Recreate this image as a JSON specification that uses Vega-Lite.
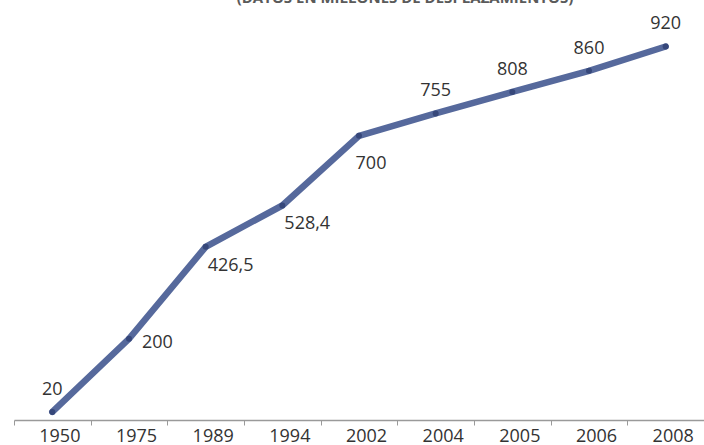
{
  "$schema": "https://vega.github.io/schema/vega-lite/v6.json",
  "autosize": {"type": "none"},
  "padding": {"left": 14, "top": 14, "right": 0, "bottom": 25},
  "width": 690,
  "height": 406,
  "background": "white",
  "title": {
    "text": "(DATOS EN MILLONES DE DESPLAZAMIENTOS)",
    "anchor": "middle",
    "dx": 46,
    "dy": 14,
    "baseline": "bottom",
    "offset": 7,
    "font": "Open Sans",
    "fontSize": 15,
    "fontWeight": "bold",
    "color": "#5a5a5a"
  },
  "data": {
    "values": [
      {"anio": "1950", "valor": 20, "etiqueta": "20"},
      {"anio": "1975", "valor": 200, "etiqueta": "200"},
      {"anio": "1989", "valor": 426.5, "etiqueta": "426,5"},
      {"anio": "1994", "valor": 528.4, "etiqueta": "528,4"},
      {"anio": "2002", "valor": 700, "etiqueta": "700"},
      {"anio": "2004", "valor": 755, "etiqueta": "755"},
      {"anio": "2005", "valor": 808, "etiqueta": "808"},
      {"anio": "2006", "valor": 860, "etiqueta": "860"},
      {"anio": "2008", "valor": 920, "etiqueta": "920"}
    ]
  },
  "encoding": {
    "x": {
      "field": "anio",
      "type": "ordinal",
      "bandPosition": 0.5,
      "scale": {"type": "band", "paddingInner": 0, "paddingOuter": 0},
      "axis": {
        "title": null,
        "labelAngle": 0,
        "tickBand": "extent",
        "tickSize": 5,
        "labelPadding": 2,
        "labelOffset": 7,
        "labelFont": "Open Sans",
        "labelFontSize": 18,
        "labelColor": "#333333",
        "domainColor": "#9a9a9a",
        "tickColor": "#9a9a9a",
        "domainWidth": 1.5
      }
    },
    "y": {
      "field": "valor",
      "type": "quantitative",
      "scale": {"domain": [0, 1000]},
      "axis": null
    }
  },
  "layer": [
    {"mark": {"type": "line", "color": "#56699c", "strokeWidth": 6.5, "strokeCap": "round"}},
    {"mark": {"type": "point", "filled": true, "color": "#36477a", "size": 36, "opacity": 1}},
    {
      "transform": [{"filter": {"field": "anio", "oneOf": ["1950", "2004", "2005", "2006", "2008"]}}],
      "mark": {"type": "text", "font": "Open Sans", "fontSize": 18, "color": "#333333", "baseline": "middle", "align": "center", "dy": -22},
      "encoding": {"text": {"field": "etiqueta"}}
    },
    {
      "transform": [{"filter": {"field": "anio", "oneOf": ["1975"]}}],
      "mark": {"type": "text", "font": "Open Sans", "fontSize": 18, "color": "#333333", "baseline": "middle", "align": "left", "dx": 13, "dy": 4},
      "encoding": {"text": {"field": "etiqueta"}}
    },
    {
      "transform": [{"filter": {"field": "anio", "oneOf": ["1989", "1994"]}}],
      "mark": {"type": "text", "font": "Open Sans", "fontSize": 18, "color": "#333333", "baseline": "middle", "align": "left", "dx": 2, "dy": 19},
      "encoding": {"text": {"field": "etiqueta"}}
    },
    {
      "transform": [{"filter": {"field": "anio", "oneOf": ["2002"]}}],
      "mark": {"type": "text", "font": "Open Sans", "fontSize": 18, "color": "#333333", "baseline": "middle", "align": "center", "dx": 12, "dy": 28},
      "encoding": {"text": {"field": "etiqueta"}}
    }
  ],
  "config": {
    "view": {"stroke": null}
  }
}
